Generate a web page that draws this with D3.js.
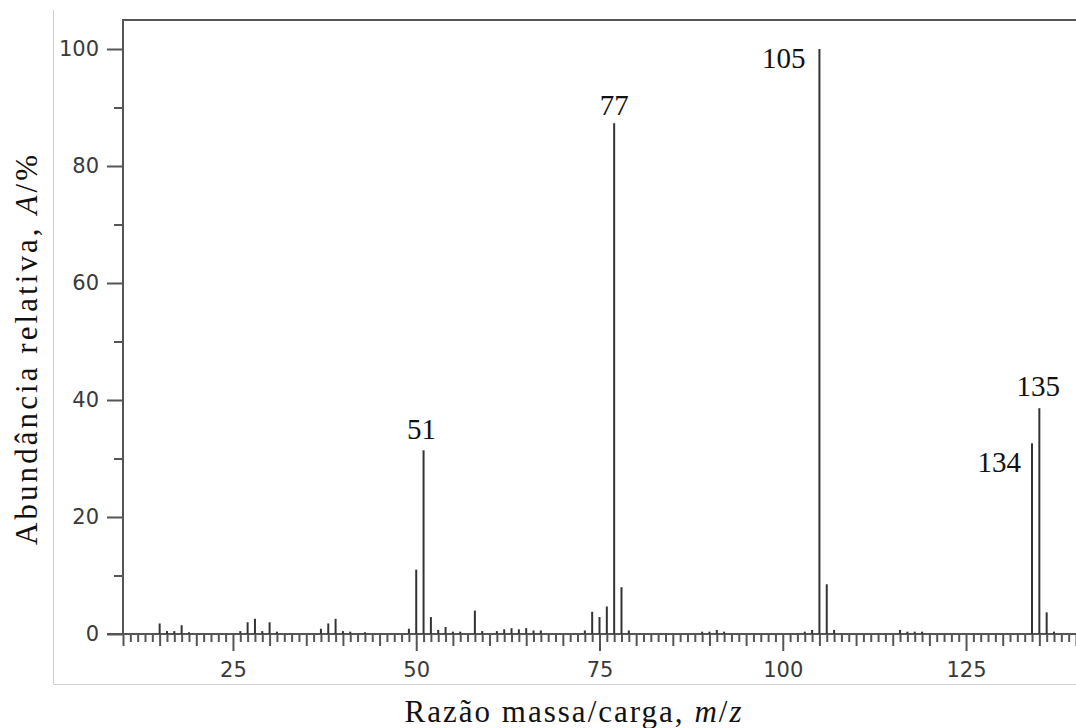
<!DOCTYPE html>
<html>
<head>
<meta charset="utf-8">
<script src="https://cdn.jsdelivr.net/npm/d3@7"></script>
<style>
  body { margin: 0; background: #fff; }
  .tick text { font-family: "DejaVu Sans", sans-serif; font-size: 21px; fill: #3a3a3a; }
  .serif { font-family: "Liberation Serif", serif; fill: #111; }
</style>
</head>
<body>
<script>
// m/z values and relative abundance (%)
const mz = [15, 16, 17, 18, 19, 26, 27, 28, 29, 30, 31, 37, 38, 39, 40, 41, 43,
  49, 50, 51, 52, 53, 54, 55, 56, 58, 59, 61, 62, 63, 64, 65, 66, 67,
  73, 74, 75, 76, 77, 78, 79, 89, 90, 91, 92,
  103, 104, 105, 106, 107, 116, 117, 118, 119, 134, 135, 136, 137];
const abundance = [1.8, 0.5, 0.5, 1.5, 0.3, 0.5, 2.0, 2.6, 0.5, 2.0, 0.4, 0.9, 1.8, 2.6, 0.5, 0.4, 0.3,
  0.9, 11.0, 31.4, 2.9, 0.7, 1.2, 0.4, 0.4, 4.0, 0.5, 0.5, 0.8, 1.0, 0.8, 1.0, 0.6, 0.6,
  0.6, 3.8, 2.9, 4.7, 87.3, 8.0, 0.6, 0.4, 0.4, 0.7, 0.4,
  0.4, 0.7, 100, 8.5, 0.7, 0.7, 0.4, 0.4, 0.4, 32.6, 38.6, 3.7, 0.4];

// labelled peaks
const labelMz = [51, 77, 105, 134, 135];

const xTicksMajor = [25, 50, 75, 100, 125];
const yTicksMajor = [0, 20, 40, 60, 80, 100];

const width = 1076, height = 728;
const margin = { top: 20, left: 123, bottom: 94 };

const svg = d3.select('body').append('svg')
  .attr('width', width)
  .attr('height', height);

const x = d3.scaleLinear().domain([10, 140]).range([margin.left, width]);
const y = d3.scaleLinear().domain([0, 100]).range([634, 49]);

// light frame of the figure
svg.append('path')
  .attr('d', `M53.5,10 V684.5 H${width}`)
  .attr('fill', 'none')
  .attr('stroke', '#cfcfcf')
  .attr('stroke-width', 1);

const axisColor = '#555';

// top border and left axis line
svg.append('line')
  .attr('x1', margin.left).attr('x2', width)
  .attr('y1', margin.top).attr('y2', margin.top)
  .attr('stroke', axisColor).attr('stroke-width', 2);
svg.append('line')
  .attr('x1', margin.left).attr('x2', margin.left)
  .attr('y1', margin.top - 1).attr('y2', y(0))
  .attr('stroke', axisColor).attr('stroke-width', 2);

// y axis ticks
const yMinor = d3.range(0, 101, 10).filter(d => d % 20 !== 0);
svg.append('g')
  .attr('transform', `translate(${margin.left},0)`)
  .call(d3.axisLeft(y).tickValues(yMinor).tickSize(9).tickFormat(''))
  .call(g => g.select('.domain').remove());
svg.append('g')
  .attr('transform', `translate(${margin.left},0)`)
  .call(d3.axisLeft(y).tickValues(yTicksMajor).tickSize(16).tickPadding(8))
  .call(g => g.select('.domain').remove());

// x axis ticks: every unit, longer every 5, longest every 25
const xAll = d3.range(10, 141);
const x5 = xAll.filter(d => d % 5 === 0 && d % 25 !== 0);
const x1 = xAll.filter(d => d % 5 !== 0);
const xg = svg.append('g').attr('transform', `translate(0,${y(0)})`);
xg.append('g')
  .call(d3.axisBottom(x).tickValues(x1).tickSize(8).tickFormat(''))
  .call(g => g.select('.domain').remove());
xg.append('g')
  .call(d3.axisBottom(x).tickValues(x5).tickSize(12).tickFormat(''))
  .call(g => g.select('.domain').remove());
xg.append('g')
  .call(d3.axisBottom(x).tickValues(xTicksMajor).tickSize(17).tickPadding(11))
  .call(g => g.select('.domain').remove());

svg.selectAll('.tick line')
  .attr('stroke', axisColor)
  .attr('stroke-width', 2);

// baseline
svg.append('line')
  .attr('x1', 107).attr('x2', width)
  .attr('y1', y(0)).attr('y2', y(0))
  .attr('stroke', axisColor).attr('stroke-width', 2);

// peaks
const peaks = mz.map((m, i) => ({ mz: m, value: abundance[i] }));
svg.selectAll('.peak')
  .data(peaks)
  .enter()
  .append('line')
  .classed('peak', true)
  .attr('x1', d => x(d.mz)).attr('x2', d => x(d.mz))
  .attr('y1', y(0)).attr('y2', d => y(d.value))
  .attr('stroke', '#333')
  .attr('stroke-width', 2);

// peak labels
const labelStyle = {
  51: { anchor: 'middle', dx: -2, dy: -11 },
  77: { anchor: 'middle', dx: 0, dy: -8 },
  105: { anchor: 'end', dx: -14, dy: 19 },
  134: { anchor: 'end', dx: -11, dy: 29 },
  135: { anchor: 'middle', dx: -1, dy: -12 }
};
svg.selectAll('.peak-label')
  .data(peaks.filter(d => labelMz.includes(d.mz)))
  .enter()
  .append('text')
  .attr('class', 'serif peak-label')
  .attr('x', d => x(d.mz) + labelStyle[d.mz].dx)
  .attr('y', d => y(d.value) + labelStyle[d.mz].dy)
  .attr('text-anchor', d => labelStyle[d.mz].anchor)
  .style('font-size', '29px')
  .text(d => d.mz);

// axis titles (serif, spread to the width of the original)
const xTitle = svg.append('text')
  .attr('class', 'serif')
  .attr('x', 573)
  .attr('y', 722)
  .attr('text-anchor', 'middle')
  .attr('textLength', 337)
  .attr('lengthAdjust', 'spacing')
  .style('font-size', '31px');
xTitle.append('tspan').text('Razão massa/carga, ');
xTitle.append('tspan').style('font-style', 'italic').text('m');
xTitle.append('tspan').text('/');
xTitle.append('tspan').style('font-style', 'italic').text('z');

const yTitle = svg.append('text')
  .attr('class', 'serif')
  .attr('transform', 'translate(37,350) rotate(-90)')
  .attr('text-anchor', 'middle')
  .attr('textLength', 390)
  .attr('lengthAdjust', 'spacing')
  .style('font-size', '31px');
yTitle.append('tspan').text('Abundância relativa, ');
yTitle.append('tspan').style('font-style', 'italic').text('A');
yTitle.append('tspan').text('/%');
</script>
</body>
</html>
